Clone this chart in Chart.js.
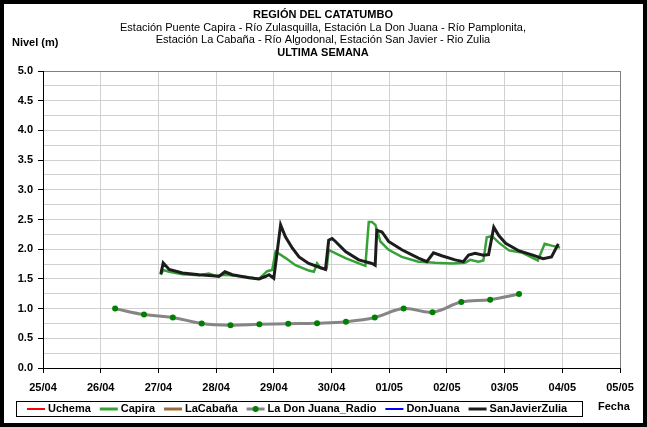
<!DOCTYPE html>
<html>
<head>
<meta charset="utf-8">
<script src="https://cdn.jsdelivr.net/npm/chart.js@4.4.1/dist/chart.umd.min.js"></script>
<style>
	html, body { margin: 0; padding: 0; background: #fff; }
	#wrap { width: 647px; height: 427px; position: relative; }
</style>
</head>
<body>
<div id="wrap"><canvas id="chart-nivel"></canvas></div>
<script>
// Tick labels (one per day)
const DAYS = ["25/04", "26/04", "27/04", "28/04", "29/04", "30/04", "01/05", "02/05", "03/05", "04/05", "05/05"];

// Capira
const capiraTimes = [
	"27/04 01:00", "27/04 02:00", "27/04 04:30", "27/04 10:00", "27/04 17:00", "27/04 21:00", "27/04 23:50",
	"28/04 03:40", "28/04 13:40", "28/04 17:50", "28/04 21:15", "28/04 23:20",
	"29/04 00:45", "29/04 04:55", "29/04 09:00", "29/04 14:35", "29/04 16:40", "29/04 18:00", "29/04 19:25", "29/04 22:00", "29/04 22:50",
	"30/04 00:15", "30/04 05:50", "30/04 11:20", "30/04 14:05", "30/04 15:30", "30/04 16:50", "30/04 18:15", "30/04 19:20", "30/04 20:20", "30/04 23:45",
	"01/05 05:15", "01/05 12:10", "01/05 19:10",
	"02/05 02:00", "02/05 07:35", "02/05 09:40", "02/05 13:05", "02/05 15:10", "02/05 16:35", "02/05 18:45", "02/05 21:35",
	"03/05 01:50", "03/05 07:30", "03/05 13:50", "03/05 16:40", "03/05 19:30", "03/05 23:05",
];
const capiraLevels = [
	1.57, 1.65, 1.62, 1.58, 1.56, 1.59, 1.55,
	1.57, 1.53, 1.50, 1.63, 1.65,
	1.96, 1.85, 1.73, 1.64, 1.62, 1.76, 1.68, 1.68, 1.99,
	1.96, 1.85, 1.76, 1.72, 2.46, 2.46, 2.41, 2.27, 2.13, 1.99,
	1.87, 1.79, 1.77,
	1.76, 1.77, 1.82, 1.79, 1.81, 2.20, 2.22, 2.11,
	1.98, 1.94, 1.81, 2.09, 2.06, 2.03,
];

// SanJavierZulia
const sanJavierTimes = [
	"27/04 01:00", "27/04 02:00", "27/04 04:30", "27/04 10:00", "27/04 17:00", "27/04 23:50",
	"28/04 01:10", "28/04 03:40", "28/04 06:45", "28/04 13:40", "28/04 17:50", "28/04 20:30", "28/04 22:00",
	"29/04 00:00", "29/04 02:50", "29/04 04:50", "29/04 07:40", "29/04 10:30", "29/04 14:30", "29/04 18:40", "29/04 21:30", "29/04 22:50",
	"30/04 00:15", "30/04 01:40", "30/04 05:50", "30/04 11:20", "30/04 16:50", "30/04 18:10", "30/04 18:50", "30/04 21:00", "30/04 23:45",
	"01/05 05:15", "01/05 12:10", "01/05 15:40", "01/05 18:25", "01/05 21:50",
	"02/05 03:25", "02/05 06:50", "02/05 09:00", "02/05 11:45", "02/05 15:10", "02/05 17:20", "02/05 19:30", "02/05 21:35",
	"03/05 00:25", "03/05 06:05", "03/05 11:45", "03/05 16:00", "03/05 19:30", "03/05 22:20",
];
const sanJavierLevels = [
	1.58, 1.77, 1.66, 1.60, 1.57, 1.55,
	1.54, 1.62, 1.57, 1.52, 1.50, 1.54, 1.57,
	1.51, 2.41, 2.21, 2.02, 1.87, 1.76, 1.70, 1.66, 2.15,
	2.18, 2.13, 1.96, 1.82, 1.76, 1.73, 2.32, 2.29, 2.13,
	1.99, 1.85, 1.79, 1.94, 1.89,
	1.82, 1.79, 1.90, 1.93, 1.90, 1.91, 2.37, 2.23,
	2.10, 1.97, 1.90, 1.84, 1.87, 2.09,
];

// La Don Juana_Radio
const radioTimes = [
	"26/04 06:00", "26/04 18:00", "27/04 06:00", "27/04 18:00", "28/04 06:00", "28/04 18:00", "29/04 06:00", "29/04 18:00",
	"30/04 06:00", "30/04 18:00", "01/05 06:00", "01/05 18:00", "02/05 06:00", "02/05 18:00", "03/05 06:00",
];
const radioLevels = [1.0, 0.9, 0.85, 0.75, 0.72, 0.735, 0.745, 0.755, 0.78, 0.85, 1.0, 0.94, 1.11, 1.15, 1.245];

const FONT = "'Liberation Sans', Arial, sans-serif";

// "dd/mm HH:MM" -> days since first tick
const toDay = (s) => {
	const [d, t] = s.split(" ");
	const [h, m] = t.split(":").map(Number);
	return DAYS.indexOf(d) + (h + m / 60) / 24;
};
const toPoints = (times, levels) => times.map((t, i) => ({ x: toDay(t), y: levels[i] }));

const isMajor = (v) => Math.round(v * 100) % 50 === 0;

// Titles, legend and frame
const decorations = {
	id: "decorations",
	beforeDraw(chart) {
		const { ctx, width, height } = chart;
		ctx.save();
		ctx.fillStyle = "#fff";
		ctx.fillRect(0, 0, width, height);
		ctx.restore();
	},
	afterDraw(chart) {
		const { ctx, width, height } = chart;
		ctx.save();
		ctx.fillStyle = "#000";
		ctx.textBaseline = "middle";
		ctx.textAlign = "center";
		const cx = 323;
		ctx.font = `bold 11px ${FONT}`;
		ctx.fillText("REGIÓN DEL CATATUMBO", cx, 15);
		ctx.font = `11px ${FONT}`;
		ctx.fillText("Estación Puente Capira - Río Zulasquilla, Estación La Don Juana - Río Pamplonita,", cx, 27.5);
		ctx.fillText("Estación La Cabaña - Río Algodonal, Estación San Javier - Rio Zulia", cx, 40);
		ctx.font = `bold 11px ${FONT}`;
		ctx.fillText("ULTIMA SEMANA", cx, 52.5);

		ctx.textAlign = "left";
		ctx.fillText("Nivel (m)", 12, 43);
		ctx.fillText("Fecha", 598, 407);

		// legend
		const ly = 409;
		let lx = 27;
		ctx.font = `bold 11px ${FONT}`;
		chart.data.datasets.forEach((ds) => {
			ctx.strokeStyle = ds.borderColor;
			ctx.lineWidth = ds.legendWidth;
			ctx.beginPath();
			ctx.moveTo(lx, ly);
			ctx.lineTo(lx + 18, ly);
			ctx.stroke();
			if (ds.pointRadius > 0) {
				ctx.fillStyle = ds.pointBackgroundColor;
				ctx.beginPath();
				ctx.arc(lx + 9, ly, ds.pointRadius, 0, Math.PI * 2);
				ctx.fill();
			}
			ctx.fillStyle = "#000";
			ctx.fillText(ds.label, lx + 21, ly);
			lx += 21 + ctx.measureText(ds.label).width + 9;
		});
		ctx.strokeStyle = "#000";
		ctx.lineWidth = 1;
		ctx.strokeRect(16.5, 401.5, 566, 15);

		// outer frame
		ctx.lineWidth = 4;
		ctx.strokeRect(2, 2, width - 4, height - 4);
		ctx.restore();
	},
};

const CHART_DATA = {
	datasets: [
		{ label: "Uchema", data: [], borderColor: "#ff0000", borderWidth: 2, legendWidth: 2, pointRadius: 0 },
		{
			label: "Capira",
			data: toPoints(capiraTimes, capiraLevels),
			borderColor: "#36a136",
			borderWidth: 2.5,
			legendWidth: 3,
			pointRadius: 0,
			tension: 0,
		},
		{ label: "LaCabaña", data: [], borderColor: "#9b6a3a", borderWidth: 3, legendWidth: 3, pointRadius: 0 },
		{
			label: "La Don Juana_Radio",
			data: toPoints(radioTimes, radioLevels),
			borderColor: "#858585",
			borderWidth: 3,
			legendWidth: 3,
			pointRadius: 3,
			pointBorderWidth: 0,
			pointBackgroundColor: "#008000",
			tension: 0.4,
		},
		{ label: "DonJuana", data: [], borderColor: "#0000ff", borderWidth: 2, legendWidth: 2, pointRadius: 0 },
		{
			label: "SanJavierZulia",
			data: toPoints(sanJavierTimes, sanJavierLevels),
			borderColor: "#1c1c1c",
			borderWidth: 3,
			legendWidth: 3,
			pointRadius: 0,
			tension: 0,
			order: -1,
		},
	],
};

const CHART_CONFIG = {
	type: "line",
	data: CHART_DATA,
	options: {
		maintainAspectRatio: false,
		responsive: true,
		animation: false,
		layout: { padding: { top: 71, left: 5, right: 27, bottom: 30 } },
		plugins: {
			legend: { display: false },
			tooltip: { enabled: false },
		},
		scales: {
			x: {
				type: "linear",
				min: 0,
				max: 10,
				afterFit: (s) => { s.height = 29; },
				ticks: {
					stepSize: 1,
					maxTicksLimit: 20,
					autoSkip: false,
					maxRotation: 0,
					padding: 8,
					color: "#000",
					font: { family: FONT, size: 11, weight: "bold" },
					callback: (v) => DAYS[v] ?? "",
				},
				grid: {
					color: (c) => (c.tick && c.tick.value === 10 ? "#808080" : "#d0d0d0"),
					tickLength: 5,
					tickColor: "#000",
				},
				border: { color: "#000", width: 1 },
			},
			y: {
				min: 0,
				max: 5,
				afterFit: (s) => { s.width = 38; },
				ticks: {
					stepSize: 0.25,
					maxTicksLimit: 30,
					autoSkip: false,
					padding: 5,
					color: "#000",
					font: { family: FONT, size: 11, weight: "bold" },
					callback: (v) => (isMajor(v) ? v.toFixed(1) : ""),
				},
				grid: {
					color: (c) => (c.tick && c.tick.value === 5 ? "#808080" : "#d0d0d0"),
					tickLength: 5,
					tickColor: (c) => (c.tick && isMajor(c.tick.value) ? "#000" : "rgba(0,0,0,0)"),
				},
				border: { color: "#000", width: 1 },
			},
		},
	},
	plugins: [decorations],
};

new Chart(document.getElementById("chart-nivel"), CHART_CONFIG);
</script>
</body>
</html>
